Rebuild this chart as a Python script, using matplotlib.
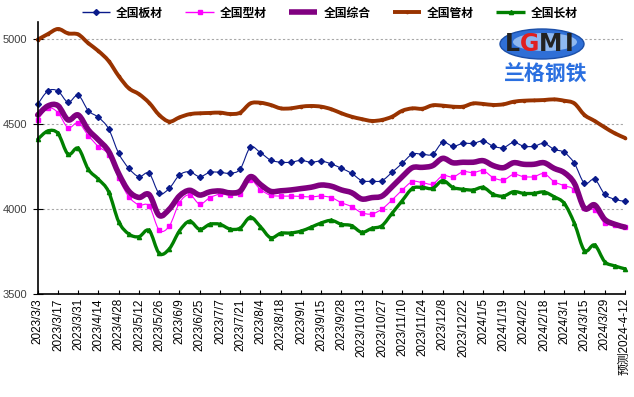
import numpy as np
import matplotlib
matplotlib.use("Agg")
import matplotlib.pyplot as plt
from matplotlib.path import Path
from matplotlib.patches import PathPatch, Ellipse
from matplotlib.lines import Line2D

# weekly prices (yuan/ton), 2023/3/3 .. 2024/4/12 (last point = forecast)
tick_labels = ["2023/3/3", "2023/3/17", "2023/3/31", "2023/4/14", "2023/4/28",
               "2023/5/12", "2023/5/26", "2023/6/9", "2023/6/25", "2023/7/7",
               "2023/7/21", "2023/8/4", "2023/8/18", "2023/9/1", "2023/9/15",
               "2023/9/28", "2023/10/13", "2023/10/27", "2023/11/10", "2023/11/24",
               "2023/12/8", "2023/12/22", "2024/1/5", "2024/1/19", "2024/2/2",
               "2024/2/18", "2024/3/1", "2024/3/15", "2024/3/29", "预测2024-4-12"]

ban = [4616, 4694, 4694, 4628, 4669, 4578, 4539, 4472, 4327, 4239,
       4190, 4210, 4092, 4122, 4200, 4219, 4190, 4216, 4216, 4210,
       4235, 4363, 4331, 4288, 4275, 4275, 4286, 4275, 4282, 4265,
       4239, 4210, 4167, 4163, 4167, 4216, 4269, 4323, 4322, 4322,
       4392, 4369, 4386, 4386, 4400, 4369, 4361, 4392, 4369, 4369,
       4386, 4351, 4333, 4269, 4151, 4175, 4086, 4057, 4045]
xing = [4524, 4594, 4567, 4478, 4508, 4432, 4367, 4320, 4180, 4072,
        4024, 4018, 3876, 3900, 4037, 4084, 4029, 4067, 4087, 4082,
        4091, 4169, 4114, 4081, 4076, 4076, 4074, 4071, 4076, 4067,
        4037, 4014, 3978, 3971, 4000, 4053, 4112, 4161, 4155, 4147,
        4196, 4188, 4219, 4214, 4225, 4184, 4171, 4204, 4190, 4190,
        4208, 4161, 4137, 4112, 4004, 3994, 3916, 3906, 3896]
zonghe = [4553, 4606, 4608, 4524, 4553, 4465, 4406, 4340, 4208, 4105,
          4068, 4085, 3962, 3999, 4077, 4110, 4082, 4101, 4106, 4095,
          4106, 4190, 4144, 4104, 4107, 4112, 4120, 4128, 4141, 4134,
          4112, 4096, 4059, 4067, 4076, 4131, 4190, 4243, 4245, 4255,
          4298, 4272, 4275, 4275, 4284, 4255, 4243, 4272, 4263, 4263,
          4272, 4239, 4214, 4151, 4004, 4024, 3939, 3910, 3893]
guan = [4996, 5029, 5059, 5033, 5027, 4975, 4929, 4871, 4782, 4710,
        4676, 4625, 4553, 4514, 4539, 4558, 4563, 4565, 4567, 4559,
        4567, 4621, 4625, 4612, 4592, 4592, 4602, 4606, 4602, 4587,
        4563, 4543, 4529, 4518, 4524, 4543, 4578, 4592, 4590, 4610,
        4608, 4602, 4602, 4621, 4618, 4612, 4616, 4631, 4637, 4639,
        4641, 4645, 4637, 4621, 4553, 4518, 4480, 4445, 4418]
chang = [4410, 4459, 4445, 4322, 4357, 4233, 4175, 4102, 3925, 3853,
         3837, 3874, 3739, 3766, 3871, 3928, 3880, 3910, 3910, 3882,
         3888, 3951, 3896, 3831, 3857, 3859, 3870, 3893, 3918, 3933,
         3910, 3902, 3863, 3886, 3902, 3975, 4049, 4121, 4127, 4121,
         4167, 4127, 4116, 4112, 4127, 4086, 4076, 4102, 4092, 4092,
         4100, 4072, 4033, 3916, 3755, 3788, 3690, 3665, 3648]


def smooth_path(y):
    """Excel style smoothed line as bezier path through the weekly points"""
    x = np.arange(len(y), dtype=float)
    y = np.asarray(y, dtype=float)
    n = len(y)
    verts = [(x[0], y[0])]
    codes = [Path.MOVETO]
    for i in range(n - 1):
        a = max(i - 1, 0)
        b = min(i + 2, n - 1)
        c1 = (x[i] + (x[i + 1] - x[a]) / 6, y[i] + (y[i + 1] - y[a]) / 6)
        c2 = (x[i + 1] - (x[b] - x[i]) / 6, y[i + 1] - (y[b] - y[i]) / 6)
        verts += [c1, c2, (x[i + 1], y[i + 1])]
        codes += [Path.CURVE4] * 3
    return Path(verts, codes)


plt.close("all")
fig = plt.figure(figsize=(6.34, 3.97), dpi=100)
ax = fig.add_axes([37.7 / 634, 1 - 294 / 397, (625 - 37.7) / 634, (294 - 22) / 397])

series = [
    # data, color, linewidth, marker, markersize, label
    (ban, "#0A1A8A", 0.8, "D", 3.0, "全国板材"),
    (xing, "#FF00FF", 0.8, "s", 3.2, "全国型材"),
    (zonghe, "#800080", 4.0, None, 0, "全国综合"),
    (guan, "#993300", 2.8, "o", 1.6, "全国管材"),
    (chang, "#008000", 2.4, "^", 3.0, "全国长材"),
]
draw_order = [3, 4, 2, 1, 0]

x = np.arange(len(ban))
for k in draw_order:
    data, col, lw, mk, ms, lab = series[k]
    ax.add_patch(PathPatch(smooth_path(data), fill=False, edgecolor=col,
                           lw=lw, capstyle="round", joinstyle="round",
                           clip_on=False, zorder=2 + k * 0.1))
    if mk:
        ax.plot(x, data, ls="none", marker=mk, ms=ms, color=col, mec=col,
                clip_on=False, zorder=2.05 + k * 0.1)

ax.set_xlim(0, len(ban) - 1)
ax.set_ylim(3500, 5100)
ax.set_yticks([3500, 4000, 4500, 5000])
ax.set_xticks(x[::2])
ax.set_xticklabels(tick_labels, rotation=90, fontsize=8.5,
                   family=["Liberation Sans", "Noto Sans CJK SC"])
for t in ax.get_yticklabels():
    t.set_fontsize(8)
    t.set_family("Liberation Sans")
    t.set_color("#404040")
ax.tick_params(axis="x", direction="in", length=3, width=0.8, pad=3)
ax.tick_params(axis="y", direction="inout", length=7, width=0.8, pad=4)
for v in [4000, 4500, 5000]:
    ax.axhline(v, color="#A8A8A8", lw=0.8, ls=(0, (2, 2)), zorder=1)
for s in ["top", "right"]:
    ax.spines[s].set_visible(False)
ax.spines["left"].set_linewidth(1.2)
ax.spines["bottom"].set_linewidth(1.2)

# legend at top
handles = [Line2D([], [], color=c, lw=(lw if lw > 1 else 1.0), marker=m, ms=ms,
                  solid_capstyle="butt")
           for (d, c, lw, m, ms, lab) in series]
fig.legend(handles, [s[5] for s in series], loc="center", ncol=5,
           bbox_to_anchor=(0.52, 1 - 13 / 397), frameon=False,
           handlelength=2.4, handletextpad=0.5, columnspacing=1.9,
           prop={"family": "Noto Sans CJK SC", "weight": "bold", "size": 8.5})

# logo
fig.patches.append(Ellipse((542 / 634, 1 - 44 / 397), 84 / 634, 30 / 397,
                           transform=fig.transFigure, facecolor="#2F6FD6",
                           edgecolor="#1C4FA8", lw=1.0, zorder=5))
fig.patches.append(Ellipse((545 / 634, 1 - 42 / 397), 64 / 634, 18 / 397,
                           transform=fig.transFigure, facecolor="#8FB8F0",
                           edgecolor="none", zorder=5))
for ch, px, col in [("L", 512, "#222222"), ("G", 530, "#E02020"),
                    ("M", 551, "#222222"), ("I", 569, "#222222")]:
    fig.text(px / 634, 1 - 44 / 397, ch, ha="center", va="center",
             fontsize=17, fontweight="bold", color=col,
             family="DejaVu Sans", zorder=6)
fig.text(546 / 634, 1 - 74 / 397, "兰格钢铁", ha="center", va="center",
         fontsize=15, fontweight="bold", color="#2A6FE0",
         family="Noto Sans CJK SC")

plt.savefig("out.png", dpi=100)
plt.close(fig)
